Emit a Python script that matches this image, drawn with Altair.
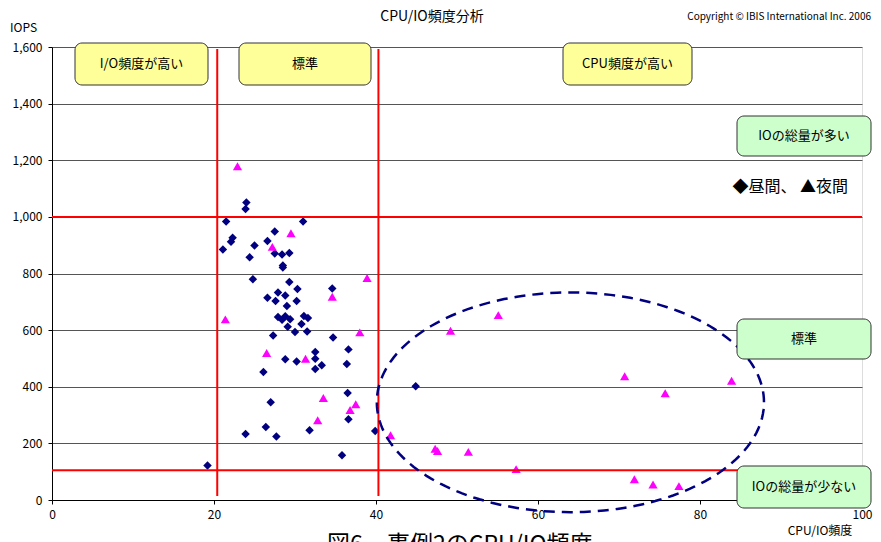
import altair as alt
import numpy as np
import pandas as pd

# ---- data ----
day_x = [19.2, 21.5, 21.1, 22.1, 22.3, 24.0, 23.9, 23.9, 24.4, 25.0,
         24.8, 26.1, 26.4, 26.6, 26.6, 27.0, 27.3, 27.5, 27.5, 27.7,
         27.6, 27.9, 27.9, 28.4, 28.4, 28.5, 28.5, 28.8, 28.8, 28.8,
         29.0, 29.1, 29.3, 29.4, 29.3, 30.0, 30.2, 30.2, 30.3, 30.8,
         31.0, 31.1, 31.6, 31.5, 31.8, 32.5, 32.5, 32.5, 33.3, 34.7,
         34.6, 35.8, 36.4, 36.6, 36.5, 36.6, 39.9, 44.9]
day_y = [122, 984, 885, 912, 926, 1051, 1028, 233, 857, 899,
         780, 452, 258, 915, 714, 345, 581, 948, 871, 224,
         703, 733, 646, 637, 867, 828, 821, 722, 497, 649,
         685, 612, 872, 638, 770, 593, 489, 703, 745, 622,
         984, 650, 643, 595, 246, 523, 499, 463, 476, 574,
         747, 158, 480, 532, 378, 285, 244, 402]

night_x = [21.4, 22.9, 26.5, 27.2, 29.5, 31.3, 32.8, 33.5, 34.6, 36.8,
           37.5, 38.0, 38.9, 41.8, 47.3, 47.6, 49.2, 51.4, 55.1, 57.3,
           70.7, 71.9, 74.2, 75.7, 77.4, 83.9]
night_y = [638, 1179, 519, 894, 942, 499, 282, 360, 718, 318,
           338, 592, 784, 229, 181, 173, 598, 170, 653, 109,
           437, 73, 55, 377, 49, 421]

x_ticks = [0, 20, 40, 60, 80, 100]
y_ticks = [0, 200, 400, 600, 800, 1000, 1200, 1400, 1600]
red_x = [20.4, 40.3]
red_y = [1000, 105]

# dashed ellipse annotation: centre (x, y) and half-widths in data units
ell_center = [64.0, 345]
ell_radius = [23.9, 388]

W, H = 810, 453
OX, OY = 52, 47   # plot origin on the page
FONT = "Noto Sans CJK JP"

xs = alt.Scale(domain=[0, 100], nice=False, zero=False)
ys = alt.Scale(domain=[0, 1600], nice=False, zero=False)

day = pd.DataFrame({"x": day_x, "y": day_y})
night = pd.DataFrame({"x": night_x, "y": night_y})

t = np.linspace(0, 2 * np.pi, 181)
ell = pd.DataFrame({
    "x": ell_center[0] + ell_radius[0] * np.cos(t),
    "y": ell_center[1] + ell_radius[1] * np.sin(t),
    "o": np.arange(len(t)),
})

one = alt.Data(values=[{"a": 1}])

X_AXIS = alt.Axis(values=x_ticks, grid=False, domainColor="black",
                  tickColor="black", tickSize=4, labelFont=FONT,
                  labelFontSize=12, labelColor="black", labelPadding=5,
                  labelFlush=False)
Y_AXIS = alt.Axis(values=y_ticks, format=",d", grid=True,
                  gridColor="#555555", gridWidth=1, domainColor="black",
                  tickColor="black", tickSize=4, labelFont=FONT,
                  labelFontSize=12, labelColor="black", labelPadding=6,
                  labelFlush=False)


def xenc():
    return alt.X("x:Q", scale=xs, title=None, axis=X_AXIS)


def yenc():
    return alt.Y("y:Q", scale=ys, title=None, axis=Y_AXIS)


day_layer = alt.Chart(day).mark_point(
    shape="diamond", filled=True, size=72, color="#000080", opacity=1
).encode(x=xenc(), y=yenc())

night_layer = alt.Chart(night).mark_point(
    shape="triangle-up", filled=True, size=84, color="#FF00FF", opacity=1
).encode(x=xenc(), y=yenc())

vrules = alt.Chart(pd.DataFrame({"x": red_x})).mark_rule(
    color="#FF0000", strokeWidth=2
).encode(x=xenc(), y=alt.value(2), y2=alt.value(H - 4))

hrules = alt.Chart(pd.DataFrame({"y": red_y})).mark_rule(
    color="#FF0000", strokeWidth=2
).encode(y=yenc(), x=alt.value(0), x2=alt.value(W))

ellipse = alt.Chart(ell).mark_line(
    color="#000080", strokeWidth=2.5, strokeDash=[11, 7]
).encode(x=xenc(), y=yenc(), order="o:Q")


def box(label, x1, x2, y1, y2, fill, size=13):
    rect = alt.Chart(one).mark_rect(
        fill=fill, stroke="#333333", strokeWidth=1, cornerRadius=7
    ).encode(x=alt.value(x1 - OX), x2=alt.value(x2 - OX),
             y=alt.value(y1 - OY), y2=alt.value(y2 - OY))
    txt = alt.Chart(one).mark_text(
        text=label, font=FONT, fontSize=size, color="black",
        align="center", baseline="middle"
    ).encode(x=alt.value((x1 + x2) / 2 - OX), y=alt.value((y1 + y2) / 2 - OY))
    return [rect, txt]


def label(s, x, y, size=12, align="left", baseline="middle", weight="normal"):
    return alt.Chart(one).mark_text(
        text=s, font=FONT, fontSize=size, color="black", align=align,
        baseline=baseline, fontWeight=weight
    ).encode(x=alt.value(x - OX), y=alt.value(y - OY))


YEL = "#FFFF99"
GRN = "#CCFFCC"
layers = [day_layer, night_layer, hrules, vrules, ellipse]
layers += box("I/O頻度が高い", 75, 208, 43, 85, YEL)
layers += box("標準", 239, 371, 43, 85, YEL)
layers += box("CPU頻度が高い", 563, 692, 43, 85, YEL)
layers += box("IOの総量が多い", 737, 871, 116, 156, GRN)
layers += box("標準", 737, 871, 319, 359, GRN)
layers += box("IOの総量が少ない", 737, 871, 466, 508, GRN)
layers += [
    label("CPU/IO頻度分析", 432, 17, size=14, align="center"),
    label("Copyright © IBIS International Inc. 2006", 871, 17, size=10, align="right"),
    label("IOPS", 10, 28, size=12),
    label("CPU/IO頻度", 820, 531, size=12, align="center"),
    label("◆昼間、 ▲夜間", 848, 187, size=16, align="right"),
    label("図6.", 327, 552, size=23, baseline="alphabetic"),
    label("事例2のCPU/IO頻度", 387, 552, size=23, baseline="alphabetic"),
]

chart = alt.layer(*layers).properties(
    width=W, height=H,
    autosize=alt.AutoSizeParams(type="none"),
    padding={"left": 44, "top": 39, "right": 11, "bottom": 42},
).configure_view(stroke="#999999", strokeWidth=1).configure(background="white")

chart.save("out.html", embed_options={"renderer": "svg", "actions": False})
